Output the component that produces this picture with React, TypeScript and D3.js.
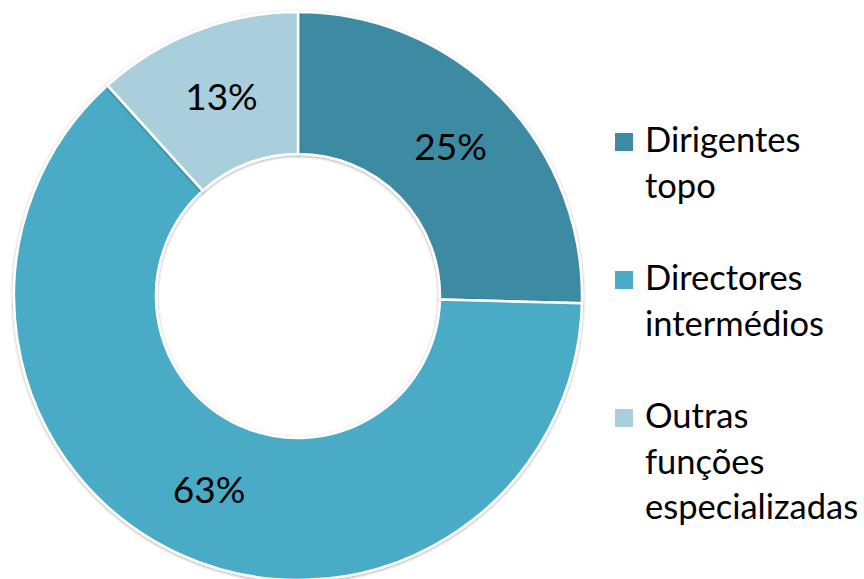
import React, { useEffect, useRef } from "react";
import * as d3 from "d3";

const categories = ["Dirigentes topo", "Directores intermédios", "Outras funções especializadas"];
const legendLines = [["Dirigentes", "topo"], ["Directores", "intermédios"], ["Outras", "funções", "especializadas"]];
const values = [25.4, 62.9, 11.7];
const labels = ["25%", "63%", "13%"];
const colors = ["#3E8BA3", "#4AABC5", "#A9CFDC"];

const W = 864;
const H = 579;

export default function App() {
  const ref = useRef<SVGSVGElement>(null);
  useEffect(() => {
    const svg = d3.select(ref.current);
    svg.selectAll("*").remove();
    const defs = svg.append("defs");
    const f = defs.append("filter").attr("id", "sh").attr("x", "-10%").attr("y", "-10%").attr("width", "120%").attr("height", "120%");
    f.append("feDropShadow").attr("dx", 0).attr("dy", 1).attr("stdDeviation", 1.5).attr("flood-color", "#000").attr("flood-opacity", 0.35);

    const cx = 298, cy = 296, R = 284, r = 142;
    const g = svg.append("g").attr("transform", `translate(${cx},${cy})`);
    const pie = d3.pie<number>().sort(null).value((d) => d);
    const arcs = pie(values);
    const arc = d3.arc<d3.PieArcDatum<number>>().innerRadius(r).outerRadius(R);
    g.selectAll("path.s")
      .data(arcs)
      .enter()
      .append("path")
      .attr("class", "s")
      .attr("d", arc)
      .attr("fill", (_, i) => colors[i])
      .attr("stroke", "#fff")
      .attr("stroke-width", 2.5)
      .attr("filter", "url(#sh)");
    g.selectAll("text.l")
      .data(arcs)
      .enter()
      .append("text")
      .attr("class", "l")
      .attr("transform", (d) => `translate(${arc.centroid(d)})`)
      .attr("text-anchor", "middle")
      .attr("dy", "0.35em")
      .attr("font-family", "Lato, 'Open Sans', sans-serif")
      .attr("font-size", 37)
      .attr("fill", "#000")
      .text((_, i) => labels[i]);

    const lg = svg.append("g");
    const sqY = [133, 271, 409];
    categories.forEach((c, i) => {
      lg.append("rect").attr("x", 615).attr("y", sqY[i]).attr("width", 18).attr("height", 18).attr("fill", colors[i]);
      const t = lg.append("text").attr("x", 645).attr("y", sqY[i] + 19)
        .attr("font-family", "Lato, 'Open Sans', sans-serif").attr("font-size", 34.5).attr("fill", "#000");
      legendLines[i].forEach((ln, j) => {
        t.append("tspan").attr("x", 645).attr("dy", j === 0 ? 0 : 45.5).text(ln);
      });
    });
  }, []);
  return (
    <svg ref={ref} width={W} height={H} style={{ position: "absolute", left: 0, top: 0, background: "#fff" }} />
  );
}
